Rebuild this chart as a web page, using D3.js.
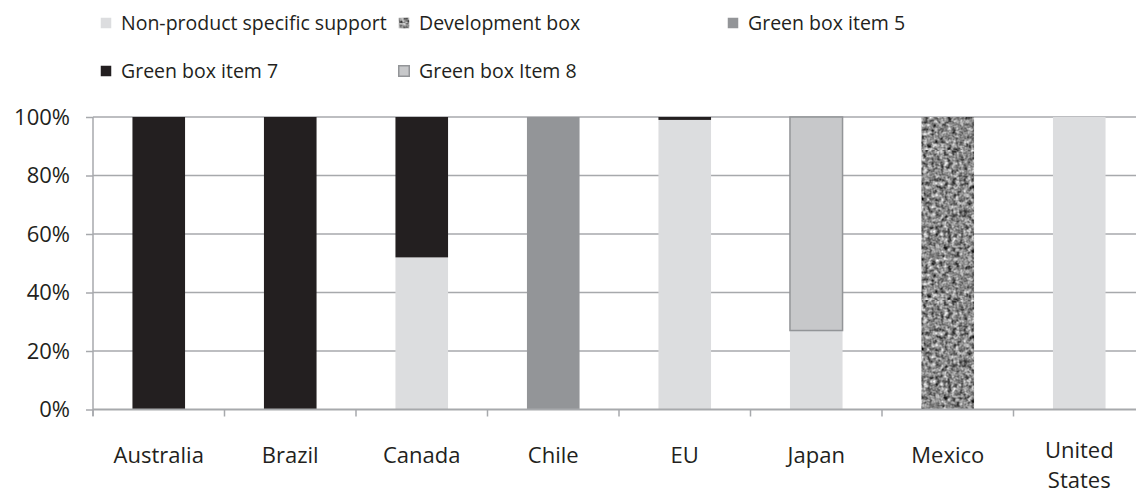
<!DOCTYPE html>
<html><head><meta charset="utf-8">
<script src="https://cdn.jsdelivr.net/npm/d3@7"></script>
<style>body{margin:0;background:#fff}svg{display:block}text{font-family:"Open Sans",sans-serif;fill:#231f20}</style>
</head><body><svg id="c" width="1136" height="494"></svg>
<script>
const categories = ["Australia","Brazil","Canada","Chile","EU","Japan","Mexico","United States"];
const seriesNames = ["Non-product specific support","Development box","Green box item 5","Green box item 7","Green box Item 8"];
const nonProduct = [0,0,0.52,0,0.99,0.27,0,1];
const developmentBox = [0,0,0,0,0,0,1,0];
const greenBox5 = [0,0,0,1,0,0,0,0];
const greenBox7 = [1,1,0.48,0,0.01,0,0,0];
const greenBox8 = [0,0,0,0,0,0.73,0,0];
const yTicks = [0,0.2,0.4,0.6,0.8,1];

const seriesVals = [nonProduct, developmentBox, greenBox5, greenBox7, greenBox8];
const fills = ["#dcdddf","url(#noisePat)","#939598","#231f20","#c7c8ca"];
const strokes = [null,null,null,null,"#939598"];
const FS_AX = "22px", FS_LG = "19.5px";

const svg = d3.select("#c");
const defs = svg.append("defs");
const f = defs.append("filter").attr("id","noiseF").attr("x",0).attr("y",0).attr("width","100%").attr("height","100%")
  .attr("color-interpolation-filters","sRGB");
f.append("feTurbulence").attr("type","fractalNoise").attr("baseFrequency",0.25).attr("numOctaves",2).attr("seed",5);
f.append("feColorMatrix").attr("type","matrix")
  .attr("values","0.8 0.8 0 0 -0.27  0.8 0.8 0 0 -0.27  0.8 0.8 0 0 -0.27  0 0 0 0 1");
const pat = defs.append("pattern").attr("id","noisePat").attr("patternUnits","userSpaceOnUse")
  .attr("width",150).attr("height",150);
pat.append("rect").attr("width",150).attr("height",150).attr("filter","url(#noiseF)");

const table = categories.map((c,i)=>{const o={cat:c}; seriesNames.forEach((s,j)=>o[s]=seriesVals[j][i]); return o;});
const stacked = d3.stack().keys(seriesNames)(table);

const x = d3.scaleBand().domain(categories).range([93,1145]).paddingInner(0.6).paddingOuter(0.3);
const y = d3.scaleLinear().domain([0,1]).range([409.5,117]);

svg.append("g").selectAll("line").data(yTicks.slice(1)).join("line")
  .attr("x1",93).attr("x2",1145).attr("y1",d=>y(d)).attr("y2",d=>y(d))
  .attr("stroke","#a7a9ac").attr("stroke-width",1.5);

stacked.forEach((s,j)=>{
  svg.append("g").selectAll("rect").data(s.filter(d=>d[1]-d[0]>0)).join("rect")
    .attr("x",d=>x(d.data.cat)).attr("width",x.bandwidth())
    .attr("y",d=>y(d[1])).attr("height",d=>y(d[0])-y(d[1]))
    .attr("fill",fills[j])
    .attr("stroke",strokes[j]||"none").attr("stroke-width",1.5);
});

const ya = svg.append("g").attr("transform","translate(93,0)")
  .call(d3.axisLeft(y).tickValues(yTicks).tickFormat(d3.format(".0%")).tickSize(7).tickPadding(16));
ya.select(".domain").attr("stroke","#a7a9ac").attr("stroke-width",1.5).attr("d","M0,117V416");
ya.selectAll(".tick line").attr("stroke","#a7a9ac").attr("stroke-width",1.5);
ya.selectAll("text").style("font-size",FS_AX).attr("fill","#231f20");

const xa = svg.append("g").attr("transform","translate(0,409.5)");
xa.append("line").attr("x1",93).attr("x2",1145).attr("stroke","#a7a9ac").attr("stroke-width",2);
const bounds = categories.map(c=>x(c)-x.step()*x.paddingInner()/2);
xa.selectAll("line.t").data(bounds).join("line").attr("class","t")
  .attr("x1",d=>d).attr("x2",d=>d).attr("y1",0).attr("y2",7).attr("stroke","#a7a9ac").attr("stroke-width",1.5);
xa.selectAll("g.lab").data(categories).join("g").attr("class","lab")
  .each(function(d){
    const words = d==="United States" ? ["United","States"] : [d];
    const y0 = words.length > 1 ? 48.5 : 53;
    d3.select(this).selectAll("text").data(words).join("text")
      .attr("text-anchor","middle").style("font-size",FS_AX)
      .attr("x",x(d)+x.bandwidth()/2).attr("y",(w,i)=>y0+i*29.5).text(w=>w);
  });

const legendPos = [[100,23],[398,23],[727,23],[100,71],[398,71]];
const lg = svg.append("g").selectAll("g").data(seriesNames).join("g")
  .attr("transform",(d,i)=>`translate(${legendPos[i][0]},${legendPos[i][1]})`);
lg.append("rect").attr("x",0.75).attr("y",-5.25).attr("width",10.5).attr("height",10.5)
  .attr("fill",(d,i)=>fills[i]).attr("stroke",(d,i)=>strokes[i]||"none").attr("stroke-width",1.5);
lg.append("text").attr("x",21).attr("y",7).style("font-size",FS_LG).text(d=>d);
</script></body></html>
